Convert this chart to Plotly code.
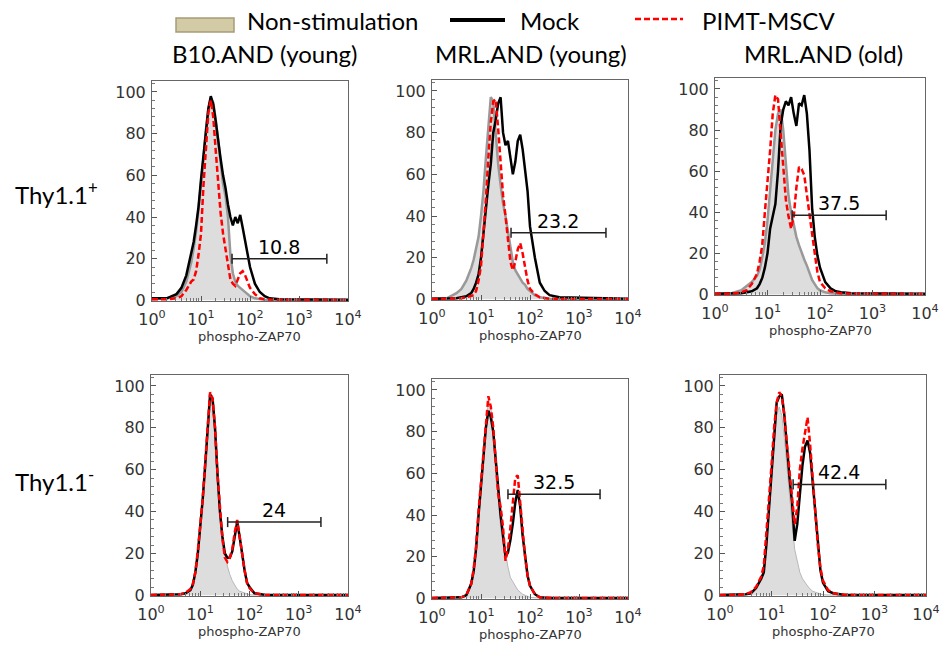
import math
import plotly.graph_objects as go

W, H = 941, 649

# log10 positions of the histogram points (shared by every curve)
LOG_X = [0.0, 0.3, 0.5, 0.6, 0.7, 0.8, 0.85, 0.9, 0.95, 1.0,
         1.05, 1.1, 1.15, 1.2, 1.25, 1.3, 1.35, 1.4, 1.45, 1.5,
         1.55, 1.6, 1.65, 1.7, 1.75, 1.8, 1.85, 1.9, 1.95, 2.0,
         2.1, 2.2, 2.3, 2.4, 2.6, 4.0]

# Thy1.1+ row
B10Y_POS_NONSTIM = [0.5, 1, 2, 4, 9, 18, 25, 33, 44, 55,
                    68, 82, 92, 97, 95, 87, 76, 66, 56, 50,
                    40, 22, 13, 9, 7, 6, 5, 4, 3, 2,
                    1, 0.5, 0.3, 0.2, 0.1, 0]
B10Y_POS_MOCK = [1, 1, 3, 6, 12, 22, 28, 36, 45, 58,
                 70, 82, 92, 98, 94, 86, 76, 68, 60, 54,
                 46, 40, 36, 40, 37, 41, 35, 28, 22, 16,
                 8, 4, 2, 1, 0.5, 0.3]
B10Y_POS_PIMT = [0.5, 0.5, 1, 2, 5, 9, 10, 14, 22, 32,
                 55, 75, 90, 96, 88, 72, 55, 42, 32, 24,
                 16, 10, 8, 7, 10, 13, 14, 12, 9, 6,
                 3, 1, 0.5, 0.3, 0.2, 0.2]

MRLY_POS_NONSTIM = [0.3, 0.5, 3, 5, 9, 15, 19, 24, 30, 40,
                    52, 68, 85, 97, 95, 80, 65, 55, 46, 40,
                    32, 24, 18, 14, 12, 10, 8, 7, 5, 4,
                    2, 1, 0.5, 0.3, 0.2, 0]
MRLY_POS_MOCK = [0.3, 0.3, 0.5, 1, 1.5, 3, 5, 8, 12, 20,
                 32, 45, 55, 65, 80, 86, 94, 97, 80, 74,
                 76, 68, 60, 66, 76, 79, 72, 62, 52, 35,
                 20, 8, 4, 2, 1, 0.3]
MRLY_POS_PIMT = [0.2, 0.2, 0.3, 0.5, 1, 1.5, 2, 4, 9, 16,
                 30, 48, 68, 85, 95, 96, 82, 65, 50, 40,
                 30, 18, 14, 18, 24, 27, 22, 15, 9, 5,
                 2.5, 1, 0.5, 0.3, 0.2, 0.2]

MRLO_POS_NONSTIM = [0.3, 0.5, 2, 4, 6, 9, 12, 18, 25, 36,
                    52, 66, 80, 88, 90, 80, 62, 48, 40, 33,
                    28, 24, 20, 17, 14, 10, 7, 5, 3, 2,
                    1, 0.5, 0.3, 0.2, 0.1, 0]
MRLO_POS_MOCK = [0.3, 0.3, 0.5, 1, 1.5, 3, 5, 8, 13, 20,
                 32, 38, 44, 60, 82, 90, 94, 92, 96, 88,
                 82, 93, 92, 97, 88, 70, 42, 28, 19, 13,
                 6, 3, 1.5, 1, 0.5, 0.3]
MRLO_POS_PIMT = [0.3, 0.3, 1, 2, 5, 10, 16, 24, 40, 54,
                 70, 88, 97, 95, 80, 62, 46, 38, 32, 38,
                 52, 62, 61, 58, 48, 40, 30, 20, 11, 6,
                 3, 1.5, 1, 0.5, 0.3, 0.2]

# Thy1.1- row
B10Y_NEG_NONSTIM = [0.2, 0.2, 0.3, 0.5, 1, 2.5, 5, 11, 20, 32,
                    46, 62, 82, 97, 93, 78, 56, 38, 27, 20,
                    14, 10, 7, 5, 3, 2, 1.5, 1, 0.5, 0.3,
                    0.2, 0.2, 0.1, 0.1, 0.1, 0]
B10Y_NEG_MOCK = [0.2, 0.2, 0.3, 0.5, 1, 2.5, 5, 11, 20, 32,
                 46, 62, 82, 96, 94, 80, 58, 40, 28, 20,
                 18, 18, 21, 28, 35, 28, 19, 12, 6, 4,
                 1, 0.5, 0.3, 0.2, 0.2, 0.2]
B10Y_NEG_PIMT = [0.2, 0.2, 0.3, 0.5, 1.2, 3, 5.5, 11, 21, 32,
                 46, 63, 83, 97, 94, 80, 58, 40, 27, 18,
                 16, 18, 22, 30, 36, 28, 19, 12, 6, 3.5,
                 1, 0.5, 0.3, 0.2, 0.2, 0.2]

MRLY_NEG_NONSTIM = [0.2, 0.2, 0.3, 0.5, 1.5, 7, 13, 24, 40, 54,
                    70, 85, 95, 92, 80, 62, 46, 34, 26, 22,
                    15, 10, 8, 6, 4, 3, 2, 1.5, 1, 0.5,
                    0.3, 0.2, 0.1, 0.1, 0.1, 0]
MRLY_NEG_MOCK = [0.2, 0.2, 0.3, 0.5, 1.5, 7, 13, 24, 40, 53,
                 68, 82, 90, 87, 80, 66, 52, 40, 30, 20,
                 22, 28, 36, 46, 52, 44, 30, 20, 11, 6,
                 2, 0.5, 0.3, 0.2, 0.2, 0.2]
MRLY_NEG_PIMT = [0.2, 0.2, 0.3, 0.5, 1.5, 7, 14, 25, 42, 56,
                 72, 86, 97, 92, 82, 66, 50, 44, 34, 18,
                 24, 34, 45, 58, 59, 46, 32, 20, 11, 6,
                 2, 0.5, 0.3, 0.2, 0.2, 0.2]

MRLO_NEG_NONSTIM = [0.2, 0.2, 0.5, 1, 3, 8, 13, 24, 40, 55,
                    72, 86, 90, 86, 75, 60, 48, 34, 22, 16,
                    11, 8, 6, 4.5, 3, 2, 1.5, 1, 0.5, 0.3,
                    0.2, 0.1, 0.1, 0.1, 0.1, 0]
MRLO_NEG_MOCK = [0.2, 0.2, 0.5, 1, 3.5, 8, 11, 24, 42, 60,
                 76, 92, 95, 96, 86, 70, 56, 44, 26, 34,
                 50, 62, 71, 74, 68, 53, 38, 24, 12, 6,
                 2, 1, 0.5, 0.3, 0.2, 0.2]
MRLO_NEG_PIMT = [0.2, 0.2, 0.6, 1.5, 4, 9, 14, 28, 46, 62,
                 80, 92, 97, 95, 86, 72, 58, 45, 34, 42,
                 60, 70, 78, 85, 72, 56, 38, 24, 13, 7,
                 2.5, 1, 0.5, 0.3, 0.2, 0.2]

PANELS = [
    (B10Y_POS_NONSTIM, B10Y_POS_MOCK, B10Y_POS_PIMT),
    (MRLY_POS_NONSTIM, MRLY_POS_MOCK, MRLY_POS_PIMT),
    (MRLO_POS_NONSTIM, MRLO_POS_MOCK, MRLO_POS_PIMT),
    (B10Y_NEG_NONSTIM, B10Y_NEG_MOCK, B10Y_NEG_PIMT),
    (MRLY_NEG_NONSTIM, MRLY_NEG_MOCK, MRLY_NEG_PIMT),
    (MRLO_NEG_NONSTIM, MRLO_NEG_MOCK, MRLO_NEG_PIMT),
]

# gates (phospho-ZAP70 intensity) and percentages
GATE_LO = [43, 41, 29.5, 36, 35.5, 26.3]
GATE_HI = [3700, 3550, 1820, 2820, 2690, 1660]
GATE_LEVEL = [20, 32, 38.5, 35, 50, 53]
GATE_PCT = ["10.8", "23.2", "37.5", "24", "32.5", "42.4"]

COL_TITLES = ["B10.AND (young)", "MRL.AND (young)", "MRL.AND (old)"]
ROW_TITLES = ["Thy1.1<sup>+</sup>", "Thy1.1<sup>-</sup>"]
SERIES = ["Non-stimulation", "Mock", "PIMT-MSCV"]
X_TICKS = [1, 10, 100, 1000, 10000]
X_TICKTEXT = ["10<sup>0</sup>", "10<sup>1</sup>", "10<sup>2</sup>",
              "10<sup>3</sup>", "10<sup>4</sup>"]
Y_TICKS = [0, 20, 40, 60, 80, 100]
X_TITLE = "phospho-ZAP70"


def fx(px):
    return px / W


def fy(py):
    return 1 - py / H


# frame boxes in pixels: left, right, top, bottom
BOXES = [(152, 348, 81, 301), (432, 628, 80, 300), (715, 925, 78, 295),
         (151, 348, 375, 596), (432, 628, 379, 599), (720, 926, 375, 596)]

TXT = "#333333"
TICKFONT = dict(family="DejaVu Sans", size=16, color=TXT)
BIGFONT = dict(family="Lato", size=24, color="black")

fig = go.Figure()
layout = {}
annotations = []
shapes = []

for i, (ns, mock, pimt) in enumerate(PANELS):
    k = "" if i == 0 else str(i + 1)
    xa, ya = "x" + k, "y" + k
    xs = [10 ** v for v in LOG_X]
    top_row = i < 3
    fig.add_trace(go.Scatter(
        x=xs, y=ns, mode="lines", fill="tozeroy", fillcolor="#dddddd",
        line=dict(color="#999999" if top_row else "#b8b8b8",
                  width=2.5 if top_row else 1),
        xaxis=xa, yaxis=ya, showlegend=False, name=SERIES[0]))
    fig.add_trace(go.Scatter(
        x=xs, y=mock, mode="lines", line=dict(color="black", width=2.5),
        xaxis=xa, yaxis=ya, showlegend=False, name=SERIES[1]))
    fig.add_trace(go.Scatter(
        x=xs, y=pimt, mode="lines",
        line=dict(color="#ff0000", width=2.5, dash="6px,3px"),
        xaxis=xa, yaxis=ya, showlegend=False, name=SERIES[2]))

    lo, hi, g = GATE_LO[i], GATE_HI[i], GATE_LEVEL[i]
    fig.add_trace(go.Scatter(
        x=[lo, lo, None, lo, hi, None, hi, hi],
        y=[g - 2.4, g + 2.4, None, g, g, None, g - 2.4, g + 2.4],
        mode="lines", line=dict(color="#222222", width=1.5),
        xaxis=xa, yaxis=ya, showlegend=False, hoverinfo="skip"))
    mid = (math.log10(lo) + math.log10(hi)) / 2
    annotations.append(dict(
        x=mid, y=g, xref=xa, yref=ya, text=GATE_PCT[i], showarrow=False,
        xanchor="center", yanchor="middle", yshift=12,
        font=dict(family="DejaVu Sans", size=19, color="black")))

    l, r, t, b = BOXES[i]
    layout["xaxis" + k] = dict(
        domain=[fx(l), fx(r)], anchor=ya, type="log", range=[0, 4],
        tickvals=X_TICKS, ticktext=X_TICKTEXT, ticks="inside", ticklen=5,
        tickcolor="#555555", minor=dict(ticks="inside", ticklen=3, dtick="D1",
                                        tickcolor="#777777"),
        showgrid=False, zeroline=False, showline=True, linecolor="#666666",
        linewidth=1, mirror=True, tickfont=TICKFONT, ticklabelstandoff=4)
    layout["yaxis" + k] = dict(
        domain=[fy(b), fy(t)], anchor=xa, range=[-0.3, 100 * (b - t) / (b - (t + 11))],
        tickvals=Y_TICKS, ticks="inside", ticklen=5, tickcolor="#555555",
        minor=dict(ticks="inside", ticklen=3, dtick=4, tickcolor="#777777"),
        showgrid=False, zeroline=False, showline=True, linecolor="#666666",
        linewidth=1, mirror=True, tickfont=TICKFONT, ticklabelstandoff=2)
    annotations.append(dict(
        x=fx((l + r) / 2), y=fy(b + 35), xref="paper", yref="paper",
        text=X_TITLE, showarrow=False, xanchor="center", yanchor="middle",
        font=dict(family="DejaVu Sans", size=13, color=TXT)))

# column and row titles
for c, px in enumerate([264, 531, 823]):
    annotations.append(dict(x=fx(px), y=fy(53), xref="paper", yref="paper",
                            text=COL_TITLES[c], showarrow=False,
                            xanchor="center", yanchor="middle", font=BIGFONT))
for rr, py in enumerate([193, 480]):
    annotations.append(dict(x=fx(13), y=fy(py), xref="paper", yref="paper",
                            text=ROW_TITLES[rr], showarrow=False, xanchor="left",
                            yanchor="middle", font=BIGFONT))

# legend drawn by hand
shapes.append(dict(type="rect", xref="paper", yref="paper",
                   x0=fx(176), x1=fx(234), y0=fy(32), y1=fy(18),
                   fillcolor="#d3caa6", line=dict(color="#a69d78", width=1.5)))
shapes.append(dict(type="line", xref="paper", yref="paper",
                   x0=fx(450), x1=fx(505), y0=fy(20), y1=fy(20),
                   line=dict(color="black", width=4)))
shapes.append(dict(type="line", xref="paper", yref="paper",
                   x0=fx(635), x1=fx(683), y0=fy(19), y1=fy(19),
                   line=dict(color="#ff0000", width=2.5, dash="6px,3px")))
for name, px in zip(SERIES, [245, 518, 700]):
    annotations.append(dict(x=fx(px), y=fy(21), xref="paper", yref="paper",
                            text=name, showarrow=False, xanchor="left",
                            yanchor="middle", font=BIGFONT))

fig.update_layout(
    width=W, height=H, margin=dict(l=0, r=0, t=0, b=0, pad=0, autoexpand=False),
    paper_bgcolor="white", plot_bgcolor="white",
    annotations=annotations, shapes=shapes, showlegend=False, **layout)

# the page's default body margin would push the figure 8px right and down
fig.write_html("out.html", config={"displayModeBar": False},
               post_script="document.body.style.margin = '0';")
